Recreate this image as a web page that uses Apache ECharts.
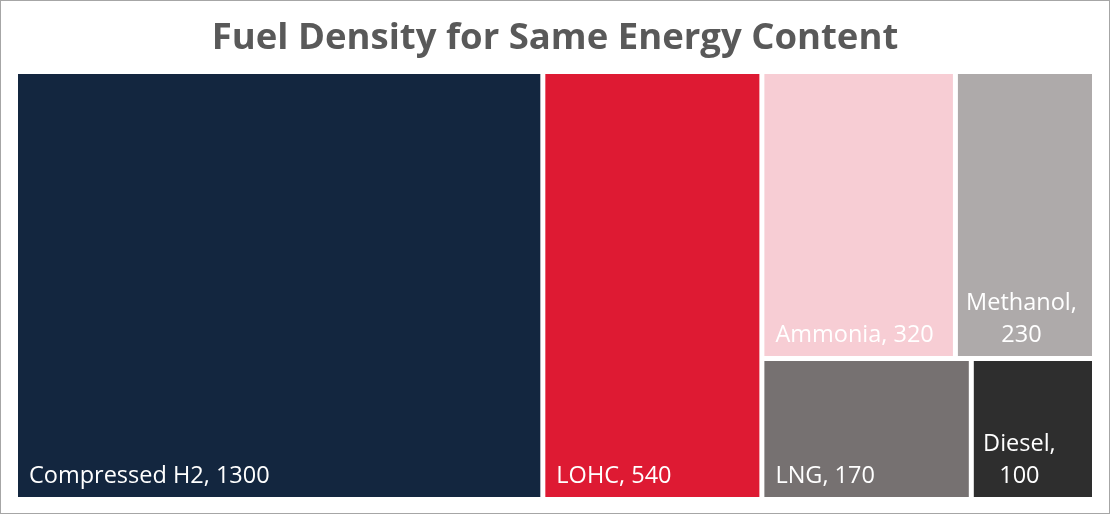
<!DOCTYPE html>
<html>
<head>
<meta charset="utf-8">
<script src="https://cdn.jsdelivr.net/npm/echarts@6/dist/echarts.min.js"></script>
<style>
html,body{margin:0;padding:0;background:#fff;}
#chart{width:1110px;height:514px;box-sizing:border-box;border:1px solid #a6a6a6;}
</style>
</head>
<body>
<div id="chart"></div>
<script>
// ---- data ----
const categories = ['Compressed H2', 'LOHC', 'Ammonia', 'Methanol', 'LNG', 'Diesel'];
const values = [1300, 540, 320, 230, 170, 100];
const title = 'Fuel Density for Same Energy Content';

// ---- styles ----
const colors = ['#13263F', '#DE1A33', '#F7CDD4', '#AEAAAA', '#767171', '#2E2E2E'];
const labelOverrides = {
  'Methanol': { formatter: '{b},\n{c}', position: 'insideBottom', align: 'center', offset: [-4, 0] },
  'Diesel': { formatter: '{b},\n{c}', position: 'insideBottom', align: 'center', offset: [-14, 0] }
};

const seriesData = categories.map((name, i) => {
  const item = { name: name, value: values[i], itemStyle: { color: colors[i] } };
  if (labelOverrides[name]) item.label = labelOverrides[name];
  return item;
});

const chart = echarts.init(document.getElementById('chart'), null, { renderer: 'canvas' });
chart.setOption({
  animation: false,
  title: {
    text: title,
    left: 'center',
    top: 14,
    textStyle: { fontFamily: 'Open Sans', fontWeight: 'bold', fontSize: 36.5, color: '#595959' }
  },
  series: [{
    type: 'treemap',
    left: 17,
    top: 73,
    width: 1074,
    height: 423,
    squareRatio: 1.04,
    roam: false,
    nodeClick: false,
    breadcrumb: { show: false },
    sort: 'desc',
    itemStyle: { borderWidth: 0, gapWidth: 5, borderColor: '#fff' },
    levels: [{ itemStyle: { borderWidth: 0, gapWidth: 5, borderColor: '#fff' } }],
    label: {
      show: true,
      position: 'insideBottomLeft',
      formatter: '{b}, {c}',
      color: '#fff',
      fontFamily: 'Open Sans',
      fontSize: 23.5,
      lineHeight: 32,
      padding: [0, 10, 5, 11],
      overflow: 'none'
    },
    emphasis: { disabled: true },
    data: seriesData
  }]
});
</script>
</body>
</html>
